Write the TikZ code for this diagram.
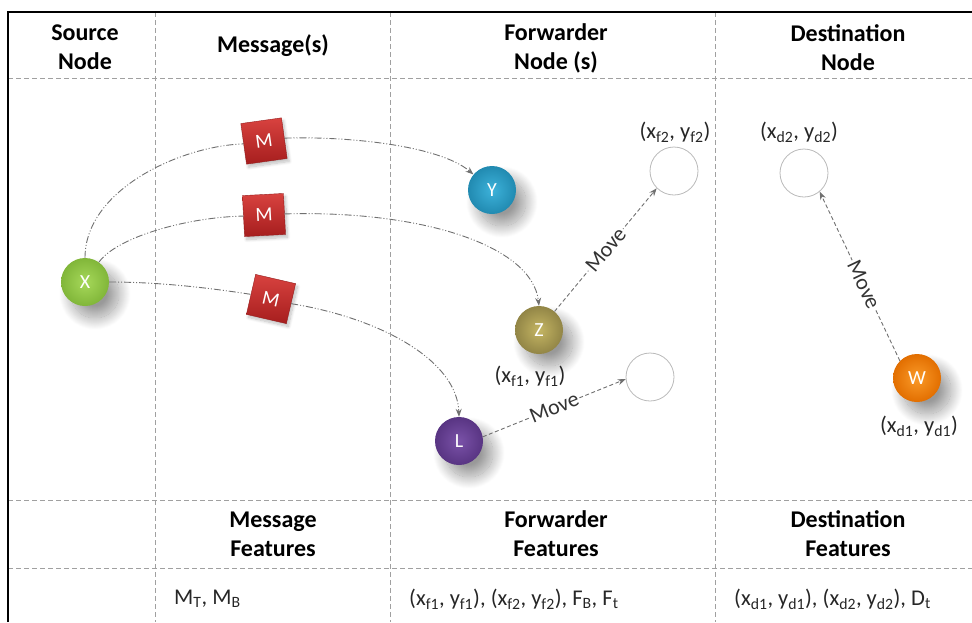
\documentclass[tikz,border=0pt]{standalone}
\usepackage{fontspec}
\setmainfont{Carlito}
\usetikzlibrary{shadows.blur,arrows.meta}

\definecolor{gridgray}{HTML}{A0A0A0}
\definecolor{linkgray}{HTML}{707070}
\definecolor{boxtop}{HTML}{D8423F}
\definecolor{boxbot}{HTML}{A61E1E}
\definecolor{xgreen}{HTML}{8CC63E}
\definecolor{xgreenlt}{HTML}{A6D85A}
\definecolor{yblue}{HTML}{2496C0}
\definecolor{ybluelt}{HTML}{3DB2DA}
\definecolor{zolive}{HTML}{A2944E}
\definecolor{zolivelt}{HTML}{C4B563}
\definecolor{lpurple}{HTML}{60398E}
\definecolor{lpurplelt}{HTML}{7A52A8}
\definecolor{worange}{HTML}{EE7400}
\definecolor{worangelt}{HTML}{FA9A28}

\begin{document}
\begin{tikzpicture}[x=1pt,y=-1pt,
  gridline/.style={gridgray, dash pattern=on 5pt off 3pt, line width=1pt},
  head/.style={font=\fontsize{24}{29}\selectfont\bfseries, align=center, inner sep=0pt},
  plain/.style={font=\fontsize{22.5}{26}\selectfont, text=black!85, inner sep=0pt},
  ball/.style={circle, minimum size=48pt, inner sep=0pt, text=white,
    font=\fontsize{20}{20}\selectfont,
    blur shadow={shadow xshift=10pt, shadow yshift=-12pt, shadow blur radius=12pt,
      shadow blur steps=25, shadow opacity=40}},
  ballshade/.style n args={2}{shading=radial, inner color=#1, outer color=#2},
  spot/.style={circle, minimum size=48pt, inner sep=0pt, draw=gray!55, line width=0.8pt},
  msg/.style={rectangle, minimum size=41pt, inner sep=0pt, text=white,
    font=\fontsize{20}{20}\selectfont, top color=boxtop, bottom color=boxbot,
    draw=boxbot!90!black, line width=0.4pt,
    blur shadow={shadow xshift=2pt, shadow yshift=-3pt, shadow blur radius=3pt,
      shadow blur steps=10, shadow opacity=25}},
  flowline/.style={linkgray, line width=0.9pt,
    dash pattern=on 7pt off 2pt on 1pt off 2pt on 1pt off 2pt},
  flowarrow/.style={flowline, -{Stealth[length=8pt,width=6pt]}},
  movearrow/.style={linkgray, line width=0.9pt, dash pattern=on 4pt off 2.5pt,
    -{Stealth[length=8pt,width=6pt]}},
  movelabel/.style={sloped, fill=white, inner sep=1.5pt, text=black!80,
    font=\fontsize{22}{24}\selectfont}
]
\useasboundingbox (0,0) rectangle (972,622);

% table grid
\draw[gridline] (8,78) -- (972,78);
\draw[gridline] (8,500) -- (972,500);
\draw[gridline] (8,568) -- (972,568);
\draw[gridline] (155,12) -- (155,622);
\draw[gridline] (390,12) -- (390,622);
\draw[gridline] (715,12) -- (715,622);
\draw[line width=2pt] (8,622) -- (8,12) -- (972,12);

% column headers
\node[head] (hsrc) at (85,47) {Source\\Node};
\node[head] (hmsg) at (273,46) {Message(s)};
\node[head] (hfwd) at (556,48) {Forwarder\\Node (s)};
\node[head] (hdst) at (848,48) {Destination\\Node};

% feature headers
\node[head] (fmsg) at (273,534) {Message\\Features};
\node[head] (ffwd) at (556,534) {Forwarder\\Features};
\node[head] (fdst) at (848,534) {Destination\\Features};

% feature lists
\node[plain, anchor=west] (lmsg) at (174,599) {M\textsubscript{T}, M\textsubscript{B}};
\node[plain, anchor=west] (lfwd) at (409,599) {(x\textsubscript{f1}, y\textsubscript{f1}), (x\textsubscript{f2}, y\textsubscript{f2}), F\textsubscript{B}, F\textsubscript{t}};
\node[plain, anchor=west] (ldst) at (734,599) {(x\textsubscript{d1}, y\textsubscript{d1}), (x\textsubscript{d2}, y\textsubscript{d2}), D\textsubscript{t}};

% empty target positions
\node[spot] (F2) at (674,171) {};
\node[spot] (D2) at (804,173) {};
\node[spot] (F1) at (650,377) {};

% nodes
\node[ball, ballshade={xgreenlt}{xgreen!92!black}] (X) at (85,282) {X};
\node[ball, ballshade={ybluelt}{yblue!92!black}] (Y) at (492,190) {Y};
\node[ball, ballshade={zolivelt}{zolive!90!black}] (Z) at (539,330) {Z};
\node[ball, ballshade={lpurplelt}{lpurple!92!black}] (L) at (459,441) {L};
\node[ball, ballshade={worangelt}{worange!95!black}] (W) at (917,378) {W};

% messages
\node[msg, rotate=8] (M1) at (264,141) {M};
\node[msg, rotate=3] (M2) at (264,215) {M};
\node[msg, rotate=-13] (M3) at (271,299) {M};

% position labels
\node[plain] (cf2) at (675,132) {(x\textsubscript{f2}, y\textsubscript{f2})};
\node[plain] (cd2) at (799,132) {(x\textsubscript{d2}, y\textsubscript{d2})};
\node[plain] (cf1) at (530,376) {(x\textsubscript{f1}, y\textsubscript{f1})};
\node[plain] (cd1) at (919,426) {(x\textsubscript{d1}, y\textsubscript{d1})};

% message flows
\draw[flowline] (X.north) .. controls (85,190) and (180,146) .. (M1.west);
\draw[flowarrow] (M1.east) .. controls (350,136) and (440,146) .. (Y.140);
\draw[flowline] (X.55) .. controls (118,236) and (190,217) .. (M2.west);
\draw[flowarrow] (M2.east) .. controls (420,210) and (532,245) .. (Z.north);
\draw[flowline] (X.east) .. controls (160,282) and (210,288) .. (M3.west);
\draw[flowarrow] (M3.east) .. controls (380,318) and (457,360) .. (L.north);

% movements
\draw[movearrow] (Z.50) -- node[movelabel] {Move} (F2.225);
\draw[movearrow] (L.10) -- node[movelabel] {Move} (F1.185);
\draw[movearrow] (W.135) -- node[movelabel, pos=0.45] {Move} (D2.310);
\end{tikzpicture}
\end{document}
